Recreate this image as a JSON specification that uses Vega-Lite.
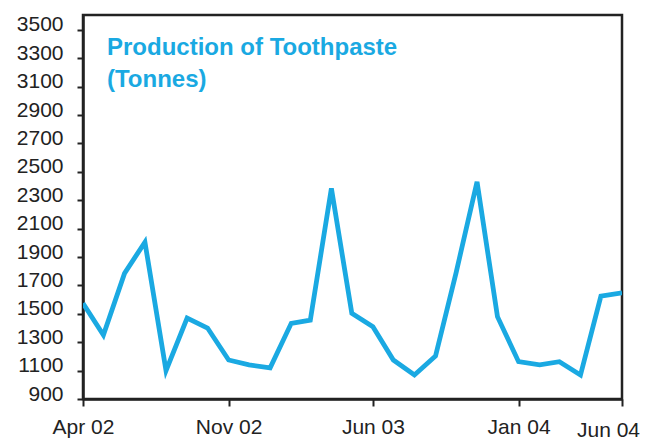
{
  "$schema": "https://vega.github.io/schema/vega-lite/v6.json",
  "width": 539,
  "height": 384,
  "autosize": {"type": "none"},
  "padding": {"left": 83, "top": 15, "right": 23, "bottom": 42},
  "background": "white",
  "config": {
    "view": {"stroke": "#222", "strokeWidth": 2.5},
    "font": "Liberation Sans"
  },
  "title": {
    "text": ["Production of Toothpaste", "(Tonnes)"],
    "anchor": "start",
    "frame": "group",
    "orient": "top",
    "baseline": "top",
    "offset": -33,
    "dx": 24,
    "dy": 45,
    "fontSize": 24,
    "fontWeight": "bold",
    "lineHeight": 31.5,
    "color": "#1AA9E2",
    "font": "Liberation Sans"
  },
  "data": {
    "values": [
      {"month": "2002-04-01", "tonnes": 1575},
      {"month": "2002-05-01", "tonnes": 1350},
      {"month": "2002-06-01", "tonnes": 1785},
      {"month": "2002-07-01", "tonnes": 2005},
      {"month": "2002-08-01", "tonnes": 1100},
      {"month": "2002-09-01", "tonnes": 1470},
      {"month": "2002-10-01", "tonnes": 1400},
      {"month": "2002-11-01", "tonnes": 1175},
      {"month": "2002-12-01", "tonnes": 1140},
      {"month": "2003-01-01", "tonnes": 1120},
      {"month": "2003-02-01", "tonnes": 1433},
      {"month": "2003-03-01", "tonnes": 1456},
      {"month": "2003-04-01", "tonnes": 2383},
      {"month": "2003-05-01", "tonnes": 1503},
      {"month": "2003-06-01", "tonnes": 1409},
      {"month": "2003-07-01", "tonnes": 1175},
      {"month": "2003-08-01", "tonnes": 1069},
      {"month": "2003-09-01", "tonnes": 1203},
      {"month": "2003-10-01", "tonnes": 1785},
      {"month": "2003-11-01", "tonnes": 2430},
      {"month": "2003-12-01", "tonnes": 1480},
      {"month": "2004-01-01", "tonnes": 1163},
      {"month": "2004-02-01", "tonnes": 1140},
      {"month": "2004-03-01", "tonnes": 1163},
      {"month": "2004-04-01", "tonnes": 1069},
      {"month": "2004-05-01", "tonnes": 1625},
      {"month": "2004-06-01", "tonnes": 1648}
    ]
  },
  "mark": {"type": "line", "color": "#1AA9E2", "strokeWidth": 4.8, "strokeJoin": "miter", "clip": true},
  "encoding": {
    "x": {
      "field": "month",
      "type": "temporal",
      "scale": {
        "type": "utc",
        "domain": [
          {"year": 2002, "month": 4, "date": 1, "utc": true},
          {"year": 2004, "month": 6, "date": 1, "utc": true}
        ]
      },
      "axis": {
        "title": null,
        "values": [
          {"year": 2002, "month": 4, "date": 1, "utc": true},
          {"year": 2002, "month": 11, "date": 1, "utc": true},
          {"year": 2003, "month": 6, "date": 1, "utc": true},
          {"year": 2004, "month": 1, "date": 1, "utc": true},
          {"year": 2004, "month": 6, "date": 1, "utc": true}
        ],
        "labelExpr": "utcFormat(datum.value, '%b %y')",
        "grid": false,
        "domainColor": "#222",
        "domainWidth": 2.5,
        "tickColor": "#222",
        "tickWidth": 2,
        "tickSize": 7,
        "labelFont": "Liberation Sans",
        "labelFontSize": 21,
        "labelColor": "#222",
        "labelPadding": {"condition": {"test": "utcyear(datum.value) == 2004 && utcmonth(datum.value) == 5", "value": 13}, "value": 10},
        "labelOffset": {"condition": {"test": "utcyear(datum.value) == 2004 && utcmonth(datum.value) == 5", "value": -14}, "value": 0},
        "labelOverlap": false,
        "labelBound": false,
        "labelFlush": false
      }
    },
    "y": {
      "field": "tonnes",
      "type": "quantitative",
      "scale": {"domain": [900, 3605], "nice": false, "zero": false},
      "axis": {
        "title": null,
        "values": [900, 1100, 1300, 1500, 1700, 1900, 2100, 2300, 2500, 2700, 2900, 3100, 3300, 3500],
        "format": "d",
        "grid": false,
        "domainColor": "#222",
        "domainWidth": 2.5,
        "tickColor": "#222",
        "tickWidth": 2,
        "tickSize": 6,
        "labelFont": "Liberation Sans",
        "labelFontSize": 21,
        "labelColor": "#222",
        "labelPadding": 14,
        "labelOffset": -5,
        "labelOverlap": false,
        "labelBound": false,
        "labelFlush": false
      }
    }
  }
}
